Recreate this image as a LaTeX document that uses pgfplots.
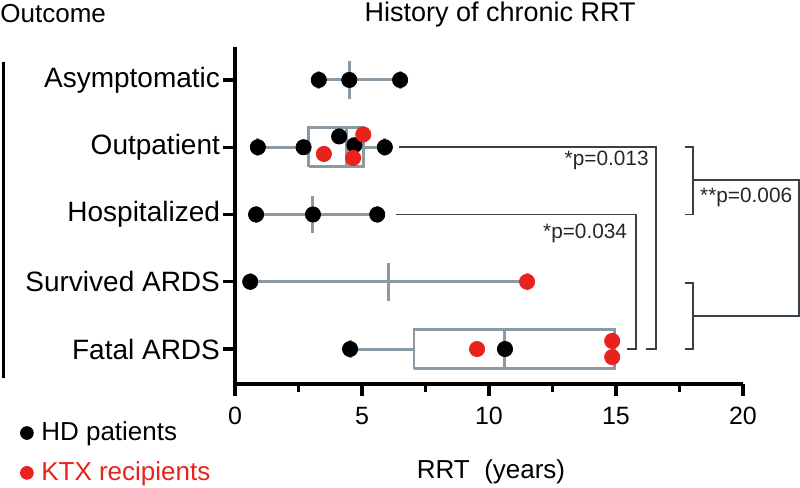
\documentclass[border=0pt]{standalone}
\usepackage{pgfplots}
\pgfplotsset{compat=1.18}
\usepackage{fontspec}
\setmainfont{Liberation Sans}
\definecolor{kred}{HTML}{E8231E}
\definecolor{boxgrey}{HTML}{8A9AA4}
\definecolor{brk}{HTML}{37424B}
\begin{document}
\begin{tikzpicture}
\path[use as bounding box] (-117.5pt,-52pt) rectangle (282.5pt,192pt);
\begin{axis}[
  at={(0,0)}, anchor=south west,
  scale only axis, width=254pt, height=168.5pt,
  xmin=0, xmax=20, ymin=0.48, ymax=5.49,
  axis lines*=left,
  axis line style={line width=1.6pt, black},
  clip=false,
  xtick={0,5,10,15,20}, minor xtick={2.5,7.5,12.5,17.5},
  ytick={1,2,3,4,5},
  yticklabels={Fatal ARDS, Survived ARDS, Hospitalized, Outpatient, Asymptomatic},
  tick align=outside,
  major tick length=6pt, minor tick length=4pt,
  every tick/.style={black, line width=1.6pt},
  every minor tick/.style={black, line width=1.6pt},
  xticklabel style={font=\fontsize{12.5}{14}\selectfont, yshift=-2pt},
  yticklabel style={font=\fontsize{14}{16}\selectfont, xshift=2pt},
  /pgf/number format/assume math mode=true,
  legend style={at={(axis description cs:-0.423,-0.10)}, anchor=north west, draw=none, fill=none,
    font=\fontsize{13}{15}\selectfont, row sep=5pt, inner sep=0pt},
  legend cell align=left,
  legend image code/.code={\draw[#1, mark size=3.2pt] plot coordinates {(0pt,0pt)}; \path (5pt,0pt);},
  whisk/.style={boxgrey, line width=1.5pt, forget plot},
  boxs/.style={boxgrey, line width=1.3pt, forget plot},
  brks/.style={brk, line width=0.95pt, forget plot},
]
% Asymptomatic (5)
\addplot[whisk] coordinates {(3.3,5) (6.5,5)};
\addplot[whisk] coordinates {(4.5,4.72) (4.5,5.28)};
\addplot[whisk] coordinates {(3.3,4.87) (3.3,5.13)};
\addplot[whisk] coordinates {(6.5,4.87) (6.5,5.13)};
% Outpatient (4)
\addplot[whisk] coordinates {(0.9,4) (2.9,4)};
\addplot[whisk] coordinates {(5.05,4) (5.9,4)};
\addplot[whisk] coordinates {(0.9,3.87) (0.9,4.13)};
\addplot[whisk] coordinates {(5.9,3.87) (5.9,4.13)};
\addplot[boxs] coordinates {(2.9,3.71) (5.05,3.71) (5.05,4.29) (2.9,4.29) (2.9,3.71)};
\addplot[boxs] coordinates {(4.4,3.71) (4.4,4.29)};
% Hospitalized (3)
\addplot[whisk] coordinates {(0.83,3) (5.6,3)};
\addplot[whisk] coordinates {(3.07,2.72) (3.07,3.28)};
\addplot[whisk] coordinates {(0.83,2.87) (0.83,3.13)};
\addplot[whisk] coordinates {(5.6,2.87) (5.6,3.13)};
% Survived ARDS (2)
\addplot[whisk] coordinates {(0.6,2) (11.5,2)};
\addplot[whisk] coordinates {(6.05,1.72) (6.05,2.28)};
\addplot[whisk] coordinates {(0.6,1.87) (0.6,2.13)};
\addplot[whisk] coordinates {(11.5,1.87) (11.5,2.13)};
% Fatal ARDS (1)
\addplot[whisk] coordinates {(4.53,1) (7.05,1)};
\addplot[whisk] coordinates {(4.53,0.87) (4.53,1.13)};
\addplot[boxs] coordinates {(7.05,0.71) (14.95,0.71) (14.95,1.29) (7.05,1.29) (7.05,0.71)};
\addplot[boxs] coordinates {(10.6,0.71) (10.6,1.29)};
% brackets
\addplot[brks] coordinates {(6.45,4) (16.57,4) (16.57,1) (16.2,1)};
\addplot[brks] coordinates {(6.35,3) (15.8,3) (15.8,1) (15.45,1)};
\addplot[brks] coordinates {(17.7,4) (18.03,4) (18.03,3) (17.7,3)};
\addplot[brks] coordinates {(17.7,1.98) (18.03,1.98) (18.03,1) (17.7,1)};
\addplot[brks] coordinates {(18.03,3.51) (22.2,3.51) (22.2,1.49) (18.03,1.49)};
% points
\addplot[only marks, mark=*, mark size=3.8pt, black] coordinates {
 (3.3,5) (4.5,5) (6.5,5)
 (0.9,4) (2.7,4) (4.1,4.16) (4.7,4.03) (5.9,4)
 (0.83,3) (3.07,3) (5.6,3)
 (0.6,2)
 (4.53,1) (10.63,1)};
\addlegendentry{HD patients}
\addplot[only marks, mark=*, mark size=3.8pt, kred] coordinates {
 (3.5,3.9) (5.05,4.19) (4.65,3.84)
 (11.5,2)
 (9.53,1) (14.85,1.12) (14.85,0.88)};
\addlegendentry{\textcolor{kred}{KTX recipients}}
% texts
\node[anchor=east, inner sep=0pt, font=\fontsize{10.4}{12}\selectfont, text=black!85] at (axis cs:16.3,3.8) {*p=0.013};
\node[anchor=east, inner sep=0pt, font=\fontsize{10.4}{12}\selectfont, text=black!85] at (axis cs:15.45,2.72) {*p=0.034};
\node[anchor=west, inner sep=0pt, font=\fontsize{10.4}{12}\selectfont, text=black!85] at (axis cs:18.3,3.25) {**p=0.006};
\node[anchor=west, inner sep=0pt, font=\fontsize{13}{15}\selectfont] at (axis description cs:-0.4626,1.098) {Outcome};
\node[inner sep=0pt, font=\fontsize{13.5}{16}\selectfont] at (axis description cs:0.522,1.095) {History of chronic RRT};
\node[inner sep=0pt, font=\fontsize{13}{15}\selectfont] at (axis description cs:0.504,-0.261) {RRT\ \ (years)};
\draw[line width=1.5pt] (axis description cs:-0.455,0.955) -- (axis description cs:-0.455,0.018);
\end{axis}
\end{tikzpicture}
\end{document}
